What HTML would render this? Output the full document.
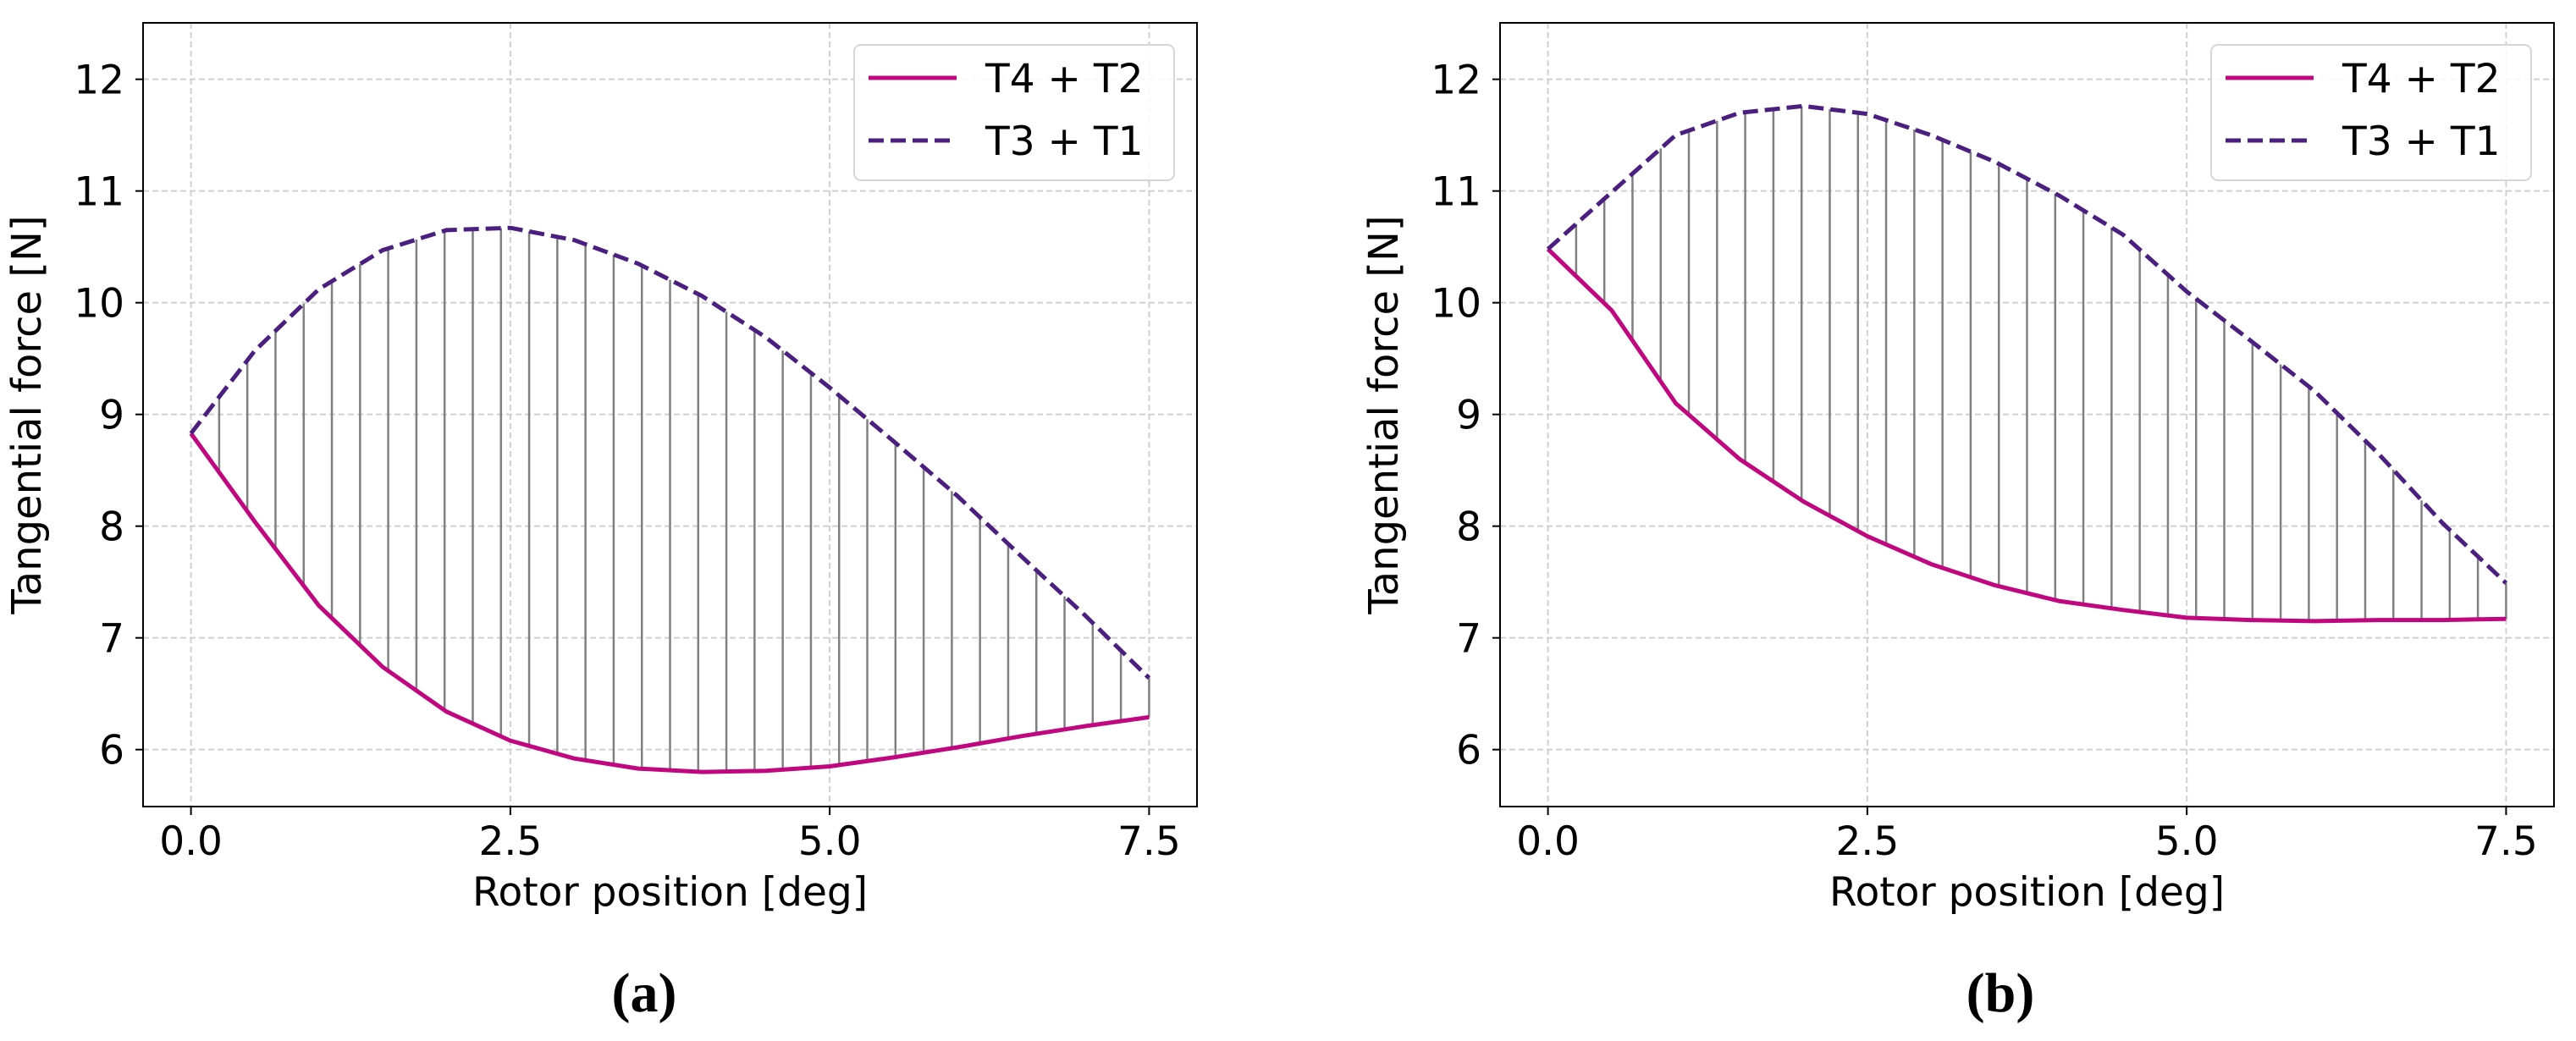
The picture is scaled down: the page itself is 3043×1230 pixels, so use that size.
<!DOCTYPE html>
<html><head><meta charset="utf-8"><style>
html,body{margin:0;padding:0;background:#fff;overflow:hidden;}
svg{display:block;}
text{font-family:"DejaVu Sans","Liberation Sans",sans-serif;}
</style></head><body>
<svg id="chart" width="3043" height="1230" viewBox="0 0 3043 1230" xmlns="http://www.w3.org/2000/svg"></svg>
<script>
const xValues = [0,0.5,1,1.5,2,2.5,3,3.5,4,4.5,5,5.5,6,6.5,7,7.5];
const aSolid = [8.83,8.04,7.29,6.74,6.34,6.08,5.92,5.83,5.80,5.81,5.85,5.93,6.02,6.12,6.21,6.29];
const aDashed = [8.83,9.57,10.12,10.47,10.65,10.67,10.56,10.35,10.06,9.69,9.24,8.76,8.27,7.73,7.20,6.64];
const bSolid = [10.48,9.93,9.10,8.60,8.22,7.91,7.66,7.47,7.33,7.25,7.18,7.16,7.15,7.16,7.16,7.17];
const bDashed = [10.48,10.99,11.50,11.70,11.76,11.69,11.50,11.26,10.96,10.61,10.10,9.66,9.21,8.65,8.03,7.49];
const xTicks = [0,2.5,5,7.5];
const xTickLabels = ["0.0","2.5","5.0","7.5"];
const yTicks = [6,7,8,9,10,11,12];
const legendLabels = ["T4 + T2","T3 + T1"];
const captions = ["(a)","(b)"];

const NS="http://www.w3.org/2000/svg";
const svg=document.getElementById('chart');
function mk(tag,attrs,parent){const e=document.createElementNS(NS,tag);for(const k in attrs)e.setAttribute(k,attrs[k]);(parent||svg).appendChild(e);return e;}
function txt(parent,x,y,s,size,anchor){
  const t=mk('text',{x:x,y:y,'text-anchor':anchor,'font-size':size,fill:'#000'},parent);
  t.textContent=s;return t;}
function interp(xs,ys,x){for(let i=0;i<xs.length-1;i++){if(x>=xs[i]&&x<=xs[i+1]){const t=(x-xs[i])/(xs[i+1]-xs[i]);return ys[i]+t*(ys[i+1]-ys[i]);}}return ys[ys.length-1];}

function panel(idx,left,solid,dashed,capX){
  const right=left+1245, top=27, bottom=953;
  const xmin=-0.375,xmax=7.875,ymin=5.49,ymax=12.505;
  const sx=v=>left+(v-xmin)/(xmax-xmin)*(right-left);
  const sy=v=>bottom-(v-ymin)/(ymax-ymin)*(bottom-top);
  const g=mk('g',{});
  
  
  yTicks.forEach(t=>{const l=mk('line',{x1:left,x2:right,y1:sy(t),y2:sy(t),stroke:'#d0d0d0','stroke-width':2,'stroke-dasharray':'7,4'},g);
    });
  xTicks.forEach(t=>{const l=mk('line',{x1:sx(t),x2:sx(t),y1:top,y2:bottom,stroke:'#d0d0d0','stroke-width':2,'stroke-dasharray':'7,4'},g);
    });
  const n=35;
  for(let i=0;i<n;i++){const x=7.5*i/(n-1);
    const l=mk('line',{x1:sx(x),x2:sx(x),y1:sy(interp(xValues,solid,x)),y2:sy(interp(xValues,dashed,x)),stroke:'#808080','stroke-width':2.5},g);
    }
  const pts=arr=>xValues.map((x,i)=>sx(x).toFixed(1)+','+sy(arr[i]).toFixed(1)).join(' ');
  const p1=mk('polyline',{points:pts(solid),fill:'none',stroke:'#c0077f','stroke-width':5,'stroke-linejoin':'round'},g);
  
  const p2=mk('polyline',{points:pts(dashed),fill:'none',stroke:'#4b1f80','stroke-width':5,'stroke-dasharray':'18,8'},g);
  
  const fr=mk('rect',{x:left,y:top,width:right-left,height:bottom-top,fill:'none',stroke:'#000','stroke-width':2},g);
  
  yTicks.forEach(t=>{mk('line',{x1:left-9,x2:left,y1:sy(t),y2:sy(t),stroke:'#000','stroke-width':2},g);
    const tx=txt(g,left-22,sy(t)+17,String(t),47,'end');
    });
  xTicks.forEach((t,i)=>{mk('line',{x1:sx(t),x2:sx(t),y1:bottom,y2:bottom+10,stroke:'#000','stroke-width':2},g);
    const tx=txt(g,sx(t),1010,xTickLabels[i],47,'middle');
    });
  const xl=txt(g,(left+right)/2,1070,'Rotor position [deg]',47,'middle');
  
  const yx=left-121,yy=(top+bottom)/2;
  const yl=mk('text',{x:0,y:0,'text-anchor':'middle','font-size':48,fill:'#000',transform:`translate(${yx} ${yy}) rotate(-90)`},g);yl.textContent='Tangential force [N]';
  
  const lx=left+840, ly=53;
  const lg=mk('g',{},g);
  
  mk('rect',{x:lx,y:ly,width:378,height:160,rx:8,fill:'#fff','fill-opacity':0.85,stroke:'#d6d6d6','stroke-width':2},lg);
  mk('line',{x1:lx+17,x2:lx+121,y1:92,y2:92,stroke:'#c0077f','stroke-width':5},lg);
  mk('line',{x1:lx+17,x2:lx+121,y1:166,y2:166,stroke:'#4b1f80','stroke-width':5,'stroke-dasharray':'18,8'},lg);
  legendLabels.forEach((s,i)=>{const t=txt(lg,lx+155,92+17+i*74,s,47,'start');
    });
  const c=mk('text',{x:capX,y:1195,'text-anchor':'middle','font-size':66,fill:'#000',style:'font-family:"Liberation Serif",serif;font-weight:bold;'},g);
  c.textContent=captions[idx];
  
}
panel(0,169,aSolid,aDashed,761);
panel(1,1772,bSolid,bDashed,2363);
</script>
</body></html>
